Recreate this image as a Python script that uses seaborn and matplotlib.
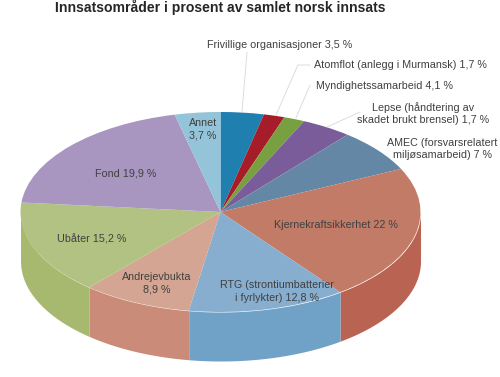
import numpy as np
import matplotlib
matplotlib.use("Agg")
import matplotlib.pyplot as plt
import seaborn as sns

sns.set_theme(style="white")
plt.rcParams['font.family'] = ['Liberation Sans', 'DejaVu Sans']

title = "Innsatsområder i prosent av samlet norsk innsats"
labels = ["Frivillige organisasjoner 3,5 %", "Atomflot (anlegg i Murmansk) 1,7 %",
          "Myndighetssamarbeid 4,1 %", "Lepse (håndtering av\nskadet brukt brensel) 1,7 %",
          "AMEC (forsvarsrelatert\nmiljøsamarbeid) 7 %", "Kjernekraftsikkerhet 22 %",
          "RTG (strontiumbatterier\ni fyrlykter) 12,8 %", "Andrejevbukta\n8,9 %",
          "Ubåter 15,2 %", "Fond 19,9 %", "Annet\n3,7 %"]
# Slice sizes as drawn in the picture (clockwise from the top)
values = [3.5, 1.7, 1.7, 4.1, 7, 22, 12.8, 8.9, 15.2, 19.9, 3.7]
top_colors = ["#1f7fae", "#a61d2a", "#78a040", "#7a5c9a", "#6587a6", "#c27b66",
              "#88aecf", "#d3a592", "#b2c283", "#a896c1", "#93c4d9"]
side_colors = ["#186a92", "#8a1822", "#648636", "#664c80", "#54708a", "#b96352",
               "#70a1c6", "#ca8c78", "#a7b96f", "#8c7ca2", "#7aa4b6"]
depth = 0.49

W, H = 500, 377
fig = plt.figure(figsize=(W / 100, H / 100), dpi=100, facecolor="white")

# Pie axes: pie radius spans 200 x 100 px around the centre (220.5, 212)
ax = fig.add_axes([20.5 / W, (H - 361) / H, 400 / W, 249 / H])
ax.pie(values, startangle=90, counterclock=False,
       colors=sns.color_palette(top_colors),
       wedgeprops=dict(linewidth=0, zorder=3))
ax.set_aspect("auto")
ax.set_xlim(-1, 1)
ax.set_ylim(-1 - depth, 1)
ax.axis("off")

# Side wall of the disc, front half only
frac = np.cumsum([0] + values) / np.sum(values)
for i, col in enumerate(side_colors):
    a0, a1 = 90 - 360 * frac[i], 90 - 360 * frac[i + 1]
    th = np.radians(np.linspace(a0, a1, 200))
    mask = np.sin(th) <= 0
    if mask.any():
        x, y = np.cos(th[mask]), np.sin(th[mask])
        ax.fill_between(x, y, y - depth, color=col, linewidth=0, zorder=2)

# Overlay in pixel coordinates for texts and leader lines
ov = fig.add_axes([0, 0, 1, 1], facecolor="none")
ov.set_xlim(0, W)
ov.set_ylim(H, 0)
ov.axis("off")

leaders = [([242, 247], [112, 52]),
           ([276, 298, 310], [115, 65, 65]),
           ([296, 310], [118, 85]),
           ([327, 360], [127, 112])]
for lx, ly in leaders:
    ov.plot(lx, ly, color="#dcdcdc", lw=0.7, zorder=1)

pos = [(280, 45), (400, 65), (384.5, 86), (423, 113.5), (442.5, 149), (336, 225),
       (277, 291.5), (157, 283.5), (91.5, 239), (126, 173), (203, 129.5)]
for t, (px, py) in zip(labels, pos):
    ov.text(px, py, t, ha="center", va="center", fontsize=7.75,
            color="#404040", linespacing=1.35, zorder=5)

ov.text(220.5, 7, title, ha="center", va="center", fontsize=10.05,
        fontweight="bold", color="#262626")

fig.savefig("out.png", dpi=100, facecolor="white")
